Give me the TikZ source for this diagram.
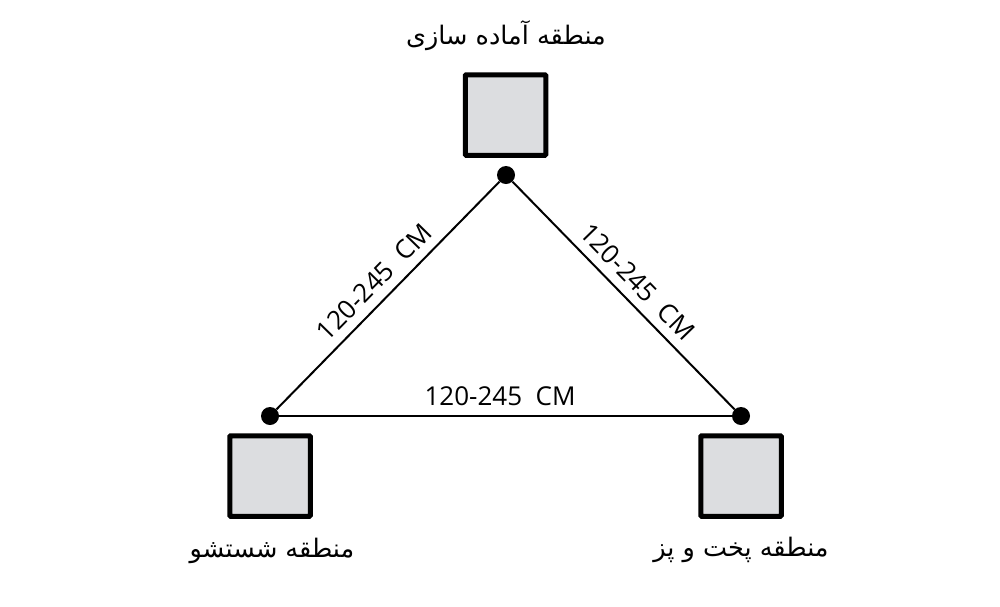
\documentclass[tikz,border=0pt]{standalone}
\usepackage{fontspec}
\setmainfont{Open Sans}
\TeXXeTstate=1
\newfontfamily\arabicfont[Script=Arabic]{DejaVu Sans}
\definecolor{boxgray}{RGB}{220,221,224}
\begin{document}
\begin{tikzpicture}[x=1pt,y=-1pt,
  zone/.style={draw=black, fill=boxgray, line width=5pt, minimum size=80.5pt, inner sep=0pt, rounded corners=1pt},
  joint/.style={circle, fill=black, minimum size=18pt, inner sep=0pt},
  link/.style={line width=2pt},
  dist/.style={font=\fontsize{26}{30}\selectfont, sloped, inner sep=0pt, above=9pt},
  zlabel/.style={font=\arabicfont\fontsize{25.5}{30}\selectfont, anchor=base, inner sep=0pt}]
\useasboundingbox[fill=white] (0,0) rectangle (1000,606);
\node[zone] (prep) at (505.5,115) {};
\node[zone] (wash) at (270,476) {};
\node[zone] (cook) at (741,476) {};
\node[joint] (jp) at (506,175) {};
\node[joint] (jw) at (270,416) {};
\node[joint] (jc) at (741,416) {};
\draw[link] (jw) -- node[dist]{120-245\ \ CM} (jp);
\draw[link] (jp) -- node[dist]{120-245\ \ CM} (jc);
\draw[link] (jw) -- node[dist, pos=0.488]{120-245\ \ CM} (jc);
\node[zlabel] (tprep) at (506,44) {\beginR منطقه آماده سازی\endR};
\node[zlabel] (twash) at (272,557) {\beginR منطقه شستشو\endR};
\node[zlabel] (tcook) at (741,556) {\beginR منطقه پخت و پز\endR};
\end{tikzpicture}
\end{document}
